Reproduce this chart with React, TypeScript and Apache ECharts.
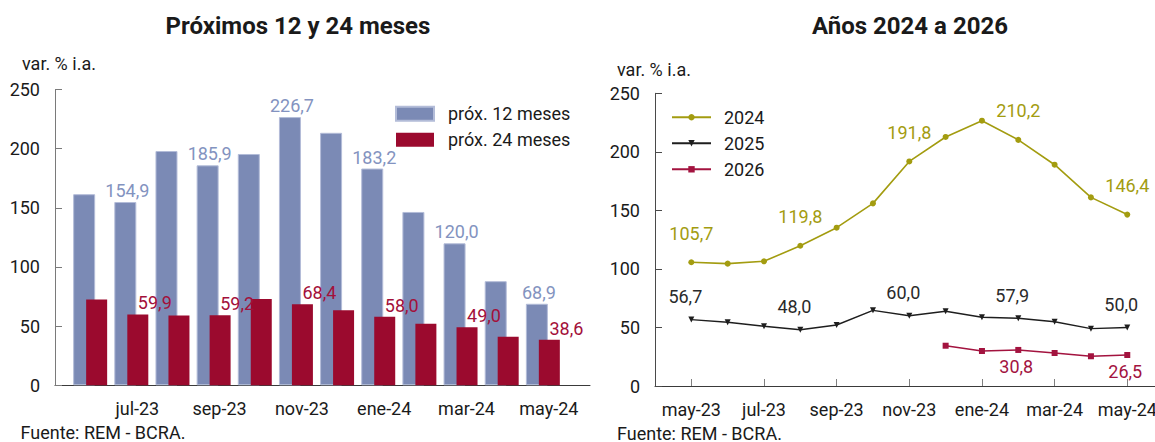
import { useEffect, useRef } from 'react';
import * as echarts from 'echarts';

// ---------- Left chart: Próximos 12 y 24 meses ----------
const barMonths = ['may-23', 'jun-23', 'jul-23', 'ago-23', 'sep-23', 'oct-23', 'nov-23', 'dic-23', 'ene-24', 'feb-24', 'mar-24', 'abr-24', 'may-24', 'jun-24'];
const next12 = [null, 161.5, 154.9, 198.0, 185.9, 195.5, 226.7, 213.4, 183.2, 146.5, 120.0, 88.0, 68.9, null];
const next24 = [null, 72.5, 59.9, 59.0, 59.2, 73.0, 68.4, 63.5, 58.0, 52.0, 49.0, 41.0, 38.6, null];
const barAxisMonths = ['jul-23', 'sep-23', 'nov-23', 'ene-24', 'mar-24', 'may-24'];
const barLabelMonths = ['jul-23', 'sep-23', 'nov-23', 'ene-24', 'mar-24', 'may-24'];

// ---------- Right chart: Años 2024 a 2026 ----------
const lineMonths = ['abr-23', 'may-23', 'jun-23', 'jul-23', 'ago-23', 'sep-23', 'oct-23', 'nov-23', 'dic-23', 'ene-24', 'feb-24', 'mar-24', 'abr-24', 'may-24', 'jun-24'];
const y2024 = [null, 105.7, 104.5, 106.5, 119.8, 135.2, 156.0, 191.8, 212.7, 226.6, 210.2, 189.0, 161.1, 146.4, null];
const y2025 = [null, 56.7, 54.4, 51.0, 48.0, 52.1, 64.6, 60.0, 63.8, 58.7, 57.9, 54.9, 49.0, 50.0, null];
const y2026 = [null, null, null, null, null, null, null, null, 34.4, 29.9, 30.8, 28.2, 25.4, 26.5, null];
const lineAxisMonths = ['may-23', 'jul-23', 'sep-23', 'nov-23', 'ene-24', 'mar-24', 'may-24'];
const lineLabelMonths = ['may-23', 'ago-23', 'nov-23', 'feb-24', 'may-24'];
const line2026LabelMonths = ['feb-24', 'may-24'];

const yTicks = [0, 50, 100, 150, 200, 250];

const FONT = 'Roboto';
const BLUE = '#7b8ab5';
const RED = '#9b0a2e';
const OLIVE = '#a39c10';
const DARK = '#1e1e1e';
const CRIMSON = '#a3133f';

const fmt = (v: number) => v.toFixed(1).replace('.', ',');

export default function App() {
  const ref = useRef<HTMLDivElement>(null);

  useEffect(() => {
    document.body.style.margin = '0';
    document.body.style.overflow = 'hidden';
    if (!ref.current) return;
    const chart = echarts.init(ref.current, undefined, { renderer: 'svg' });

    const withLabels = (vals: (number | null)[], months: string[], labelled: string[]) =>
      vals.map((v, i) => ({ value: v, label: { show: v != null && labelled.includes(months[i]) } }));

    const text = (t: string, x: number, y: number, size: number, weight: string, align: string) => ({
      type: 'text',
      x,
      y,
      silent: true,
      style: {
        text: t,
        fill: '#1a1a1a',
        font: `${weight} ${size}px ${FONT}`,
        fontSize: size,
        fontWeight: weight,
        fontFamily: FONT,
        align,
        textAlign: align,
        verticalAlign: 'middle',
        textVerticalAlign: 'middle',
      },
    });

    const yAxisCommon = (gridIndex: number, lineColor: string) => ({
      type: 'value',
      gridIndex,
      min: yTicks[0],
      max: yTicks[yTicks.length - 1],
      interval: yTicks[1] - yTicks[0],
      axisLine: { show: true, lineStyle: { color: lineColor, width: 1 } },
      axisTick: { show: true, inside: true, length: 7, lineStyle: { color: lineColor } },
      splitLine: { show: false },
      axisLabel: { color: '#1a1a1a', fontSize: 18, fontFamily: FONT, margin: 15 },
    });

    const option: any = {
      animation: false,
      backgroundColor: '#ffffff',
      textStyle: { fontFamily: FONT },
      grid: [
        { left: 55, top: 89.5, width: 535, height: 295.8, outerBoundsMode: 'none', containLabel: false },
        { left: 655, top: 93.3, width: 508.6, height: 292.7, outerBoundsMode: 'none', containLabel: false },
      ],
      xAxis: [
        {
          type: 'category',
          gridIndex: 0,
          data: barMonths,
          boundaryGap: false,
          axisLine: { show: true, lineStyle: { color: '#3a3a3a', width: 1 } },
          axisTick: {
            show: true,
            inside: true,
            length: 7,
            lineStyle: { color: '#3a3a3a' },
            interval: (i: number, v: string) => barAxisMonths.includes(v),
          },
          axisLabel: {
            color: '#1a1a1a',
            fontSize: 18,
            fontFamily: FONT,
            margin: 14,
            interval: (i: number, v: string) => barAxisMonths.includes(v),
          },
          splitLine: { show: false },
        },
        {
          type: 'category',
          gridIndex: 1,
          data: lineMonths,
          boundaryGap: false,
          axisLine: { show: true, lineStyle: { color: '#3a3a3a', width: 1 } },
          axisTick: {
            show: true,
            inside: true,
            length: 7,
            lineStyle: { color: '#808080' },
            interval: (i: number, v: string) => lineAxisMonths.includes(v),
          },
          axisLabel: {
            color: '#1a1a1a',
            fontSize: 18,
            fontFamily: FONT,
            margin: 14,
            interval: (i: number, v: string) => lineAxisMonths.includes(v),
          },
          splitLine: { show: false },
        },
      ],
      yAxis: [yAxisCommon(0, '#7a7a7a'), yAxisCommon(1, '#4a4a4a')],
      legend: [
        {
          data: ['próx. 12 meses', 'próx. 24 meses'],
          orient: 'vertical',
          left: 395,
          top: 104.7,
          padding: 0,
          itemWidth: 38,
          itemHeight: 14,
          itemGap: 8,
          icon: 'rect',
          textStyle: { fontSize: 18, fontFamily: FONT, color: '#1a1a1a', padding: [0, 0, 0, 9] },
        },
        {
          data: ['2024', '2025', '2026'],
          orient: 'vertical',
          left: 671,
          top: 108.3,
          padding: 0,
          itemWidth: 39,
          itemHeight: 8,
          itemGap: 8,
          textStyle: { fontSize: 18, fontFamily: FONT, color: '#1a1a1a', padding: [0, 0, 0, 8] },
        },
      ],
      graphic: [
        text('Próximos 12 y 24 meses', 298, 25.5, 24, 'bold', 'center'),
        text('Años 2024 a 2026', 910, 25.5, 24, 'bold', 'center'),
        text('var. % i.a.', 22, 63.5, 18, 'normal', 'left'),
        text('var. % i.a.', 617, 69, 18, 'normal', 'left'),
        text('Fuente: REM - BCRA.', 20.5, 432.5, 18, 'normal', 'left'),
        text('Fuente: REM - BCRA.', 617, 433, 18, 'normal', 'left'),
      ],
      series: [
        {
          type: 'bar',
          name: 'próx. 12 meses',
          xAxisIndex: 0,
          yAxisIndex: 0,
          barWidth: 22,
          barGap: '-41%',
          data: withLabels(next12, barMonths, barLabelMonths),
          itemStyle: { color: BLUE, borderColor: '#b3bcd8', borderWidth: 1 },
          label: {
            show: false,
            position: 'top',
            distance: 2.5,
            offset: [2, 0],
            color: '#8393c0',
            fontSize: 18,
            fontFamily: FONT,
            formatter: (p: any) => fmt(p.value),
          },
        },
        {
          type: 'bar',
          name: 'próx. 24 meses',
          xAxisIndex: 0,
          yAxisIndex: 0,
          barWidth: 21,
          barGap: '-41%',
          data: withLabels(next24, barMonths, barLabelMonths),
          itemStyle: { color: RED },
          label: {
            show: false,
            position: 'top',
            distance: 2.5,
            offset: [17, 0],
            color: '#a3103a',
            fontSize: 18,
            fontFamily: FONT,
            formatter: (p: any) => fmt(p.value),
          },
        },
        {
          // empty spacer series: shifts the bar pairs left of the month tick, as in the original
          type: 'bar',
          name: 'spacer',
          xAxisIndex: 0,
          yAxisIndex: 0,
          barWidth: 20.6,
          barGap: '-41%',
          data: [],
          silent: true,
        },
        {
          type: 'line',
          name: '2024',
          xAxisIndex: 1,
          yAxisIndex: 1,
          data: withLabels(y2024, lineMonths, lineLabelMonths),
          symbol: 'circle',
          symbolSize: 6,
          showAllSymbol: true,
          lineStyle: { color: OLIVE, width: 1.6 },
          itemStyle: { color: OLIVE },
          label: {
            show: false,
            position: 'top',
            distance: 17,
            color: OLIVE,
            fontSize: 18,
            fontFamily: FONT,
            formatter: (p: any) => fmt(p.value),
          },
        },
        {
          type: 'line',
          name: '2025',
          xAxisIndex: 1,
          yAxisIndex: 1,
          data: withLabels(y2025, lineMonths, lineLabelMonths),
          symbol: 'triangle',
          symbolRotate: 180,
          symbolSize: 6,
          showAllSymbol: true,
          lineStyle: { color: DARK, width: 1.4 },
          itemStyle: { color: DARK },
          label: {
            show: false,
            position: 'top',
            distance: 11,
            offset: [-6, 0],
            color: '#2a2a2a',
            fontSize: 18,
            fontFamily: FONT,
            formatter: (p: any) => fmt(p.value),
          },
        },
        {
          type: 'line',
          name: '2026',
          xAxisIndex: 1,
          yAxisIndex: 1,
          data: withLabels(y2026, lineMonths, line2026LabelMonths),
          symbol: 'rect',
          symbolSize: 6,
          showAllSymbol: true,
          lineStyle: { color: CRIMSON, width: 1.4 },
          itemStyle: { color: CRIMSON },
          label: {
            show: false,
            position: 'bottom',
            distance: 5,
            offset: [-2, 0],
            color: CRIMSON,
            fontSize: 18,
            fontFamily: FONT,
            formatter: (p: any) => fmt(p.value),
          },
        },
      ],
    };

    chart.setOption(option);
    return () => {
      chart.dispose();
    };
  }, []);

  return <div ref={ref} style={{ width: 1155, height: 442 }} />;
}
